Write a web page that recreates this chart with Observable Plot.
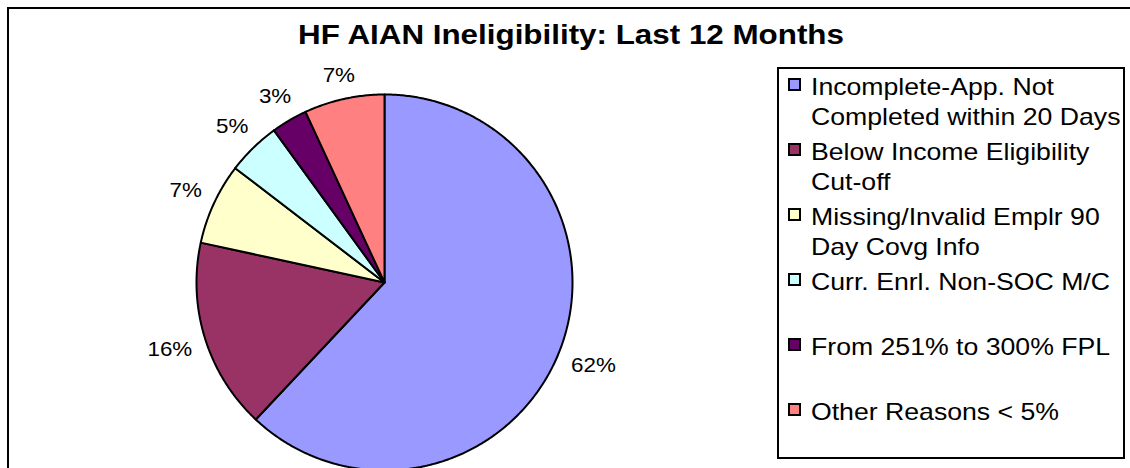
<!DOCTYPE html>
<html><head><meta charset="utf-8">
<script src="https://cdn.jsdelivr.net/npm/d3@7"></script>
<script src="https://cdn.jsdelivr.net/npm/@observablehq/plot@0.6"></script>
<style>
html,body{margin:0;padding:0;background:#fff;}
#wrap{position:relative;width:1130px;height:468px;overflow:hidden;background:#fff;font-family:Arial,"Liberation Sans",sans-serif;color:#000;}
#frame{position:absolute;left:7px;top:7px;width:1200px;height:600px;border:2px solid #000;box-sizing:border-box;}
#chart{position:absolute;left:0;top:0;}
#title{position:absolute;left:571px;top:21px;font-weight:bold;font-size:28px;line-height:28px;white-space:nowrap;transform:translateX(-50%) scaleX(1.12);}
#legend{position:absolute;left:777px;top:67px;width:348px;height:392px;border:2px solid #000;box-sizing:border-box;background:#fff;}
.sw{position:absolute;left:9px;width:13px;height:13px;border:2px solid #000;box-sizing:border-box;}
.lt{position:absolute;left:32px;font-size:24px;line-height:30px;white-space:pre;transform-origin:0 0;transform:scaleX(1.11);}
</style></head>
<body>
<div id="wrap">
  <div id="frame"></div>
  <div id="chart"></div>
  <div id="legend"></div>
  <div id="title"></div>
</div>
<script>
const title = "HF AIAN Ineligibility: Last 12 Months";
const categories = [
  "Incomplete-App. Not Completed within 20 Days",
  "Below Income Eligibility Cut-off",
  "Missing/Invalid Emplr 90 Day Covg Info",
  "Curr. Enrl. Non-SOC M/C",
  "From 251% to 300% FPL",
  "Other Reasons < 5%"
];
const legendLabels = [
  "Incomplete-App. Not\nCompleted within 20 Days",
  "Below Income Eligibility\nCut-off",
  "Missing/Invalid Emplr 90\nDay Covg Info",
  "Curr. Enrl. Non-SOC M/C",
  "From 251% to 300% FPL",
  "Other Reasons < 5%"
];
const shares = [62.0, 16.4, 7.0, 4.6, 3.1, 6.9];
const colors = ["#9999FF", "#993366", "#FFFFCC", "#CCFFFF", "#660066", "#FF8080"];

const total = d3.sum(shares);
const pie = d3.pie().sort(null).value(d => d.v)(categories.map((c, i) => ({c, v: shares[i]})));

// slice outlines in unit-circle data space
const outline = [];
for (const s of pie) {
  outline.push({cat: s.data.c, x: 0, y: 0});
  const n = Math.max(2, Math.ceil((s.endAngle - s.startAngle) / (Math.PI / 360)));
  for (let k = 0; k <= n; k++) {
    const a = s.startAngle + (s.endAngle - s.startAngle) * k / n;
    outline.push({cat: s.data.c, x: Math.sin(a), y: Math.cos(a)});
  }
  outline.push({cat: s.data.c, x: 0, y: 0});
}
// outside-end labels: offset beyond the rim by a gap plus the label box extent
const R = 188, fontPx = 20, sx = 1.12;
const labels = pie.map(s => {
  const a = (s.startAngle + s.endAngle) / 2;
  const text = Math.round(s.data.v / total * 100) + "%";
  const hw = (text.length - 1) * 0.556 * fontPx * sx / 2 + 0.889 * fontPx * sx / 2;
  const hh = 8;
  const r = (R + 13 + hw * Math.abs(Math.sin(a)) + hh * Math.abs(Math.cos(a))) / R;
  return {x: r * Math.sin(a), y: r * Math.cos(a), text};
});

const chart = Plot.plot({
  width: 1130, height: 468, margin: 0,
  x: {domain: [-1, 1], range: [384 - R, 384 + R], axis: null},
  y: {domain: [-1, 1], range: [282 + R, 282 - R], axis: null},
  color: {domain: categories, range: colors},
  style: {background: "transparent", fontFamily: "Arial, 'Liberation Sans', sans-serif"},
  marks: [
    Plot.line(outline, {x: "x", y: "y", z: "cat", fill: "cat", stroke: "#000", strokeWidth: 2, strokeLinejoin: "round"}),
    Plot.text(labels, {x: "x", y: "y", text: "text", fontSize: fontPx, fill: "#000"})
  ]
});
chart.querySelectorAll('g[aria-label="text"] text').forEach(t => {
  const tr = t.getAttribute("transform");
  if (tr) t.setAttribute("transform", tr + ` scale(${sx},1)`);
  else {
    const x = +t.getAttribute("x") || 0, y = +t.getAttribute("y") || 0;
    t.removeAttribute("x"); t.removeAttribute("y");
    t.setAttribute("transform", `translate(${x},${y}) scale(${sx},1)`);
  }
});
document.getElementById("chart").appendChild(chart);
document.getElementById("title").textContent = title;

const legend = d3.select("#legend");
legendLabels.forEach((lab, i) => {
  const top = 3 + i * 65;
  legend.append("div").attr("class", "sw").style("top", (top + 6) + "px").style("background", colors[i]);
  legend.append("div").attr("class", "lt").style("top", top + "px").text(lab);
});
</script>
</body></html>
